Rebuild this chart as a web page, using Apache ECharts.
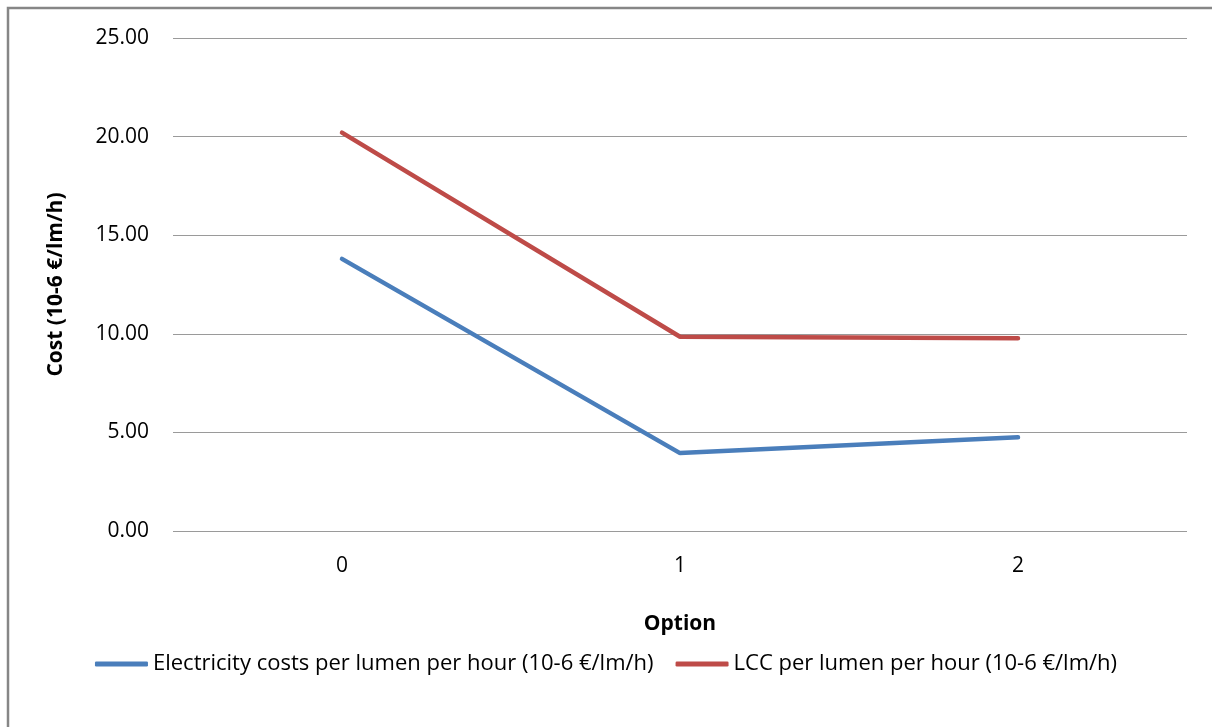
<!DOCTYPE html>
<html>
<head>
<meta charset="utf-8">
<script src="https://cdn.jsdelivr.net/npm/echarts@6/dist/echarts.min.js"></script>
<style>
  html, body { margin: 0; padding: 0; background: #fff; }
  #chart { width: 1212px; height: 727px; }
</style>
</head>
<body>
<div id="chart"></div>
<script>
const categories = ['0', '1', '2'];
const electricity = [13.8, 3.95, 4.75];
const lcc = [20.2, 9.85, 9.78];
const yTicks = [0, 5, 10, 15, 20, 25];

const FONT = '"Open Sans", "DejaVu Sans", sans-serif';

const chart = echarts.init(document.getElementById('chart'));

const option = {
    animation: false,
    backgroundColor: '#fff',
    textStyle: { fontFamily: FONT, color: '#000' },
    graphic: [
        {
            type: 'rect',
            shape: { x: 8, y: 8, width: 1220, height: 740 },
            style: { fill: 'none', stroke: '#868686', lineWidth: 2.5 },
            silent: true
        }
    ],
    grid: { left: 173, right: 25, top: 38, bottom: 196 },
    legend: {
        bottom: 47,
        left: 'center',
        itemWidth: 53,
        itemHeight: 5,
        itemGap: 22,
        icon: 'roundRect',
        textStyle: { fontFamily: FONT, fontSize: 22, color: '#000' },
        data: [
            'Electricity costs per lumen per hour (10-6 €/lm/h)',
            'LCC per lumen per hour (10-6 €/lm/h)'
        ]
    },
    xAxis: {
        type: 'category',
        data: categories,
        boundaryGap: true,
        name: 'Option',
        nameLocation: 'middle',
        nameGap: 83,
        nameTextStyle: { fontFamily: FONT, fontSize: 21, fontWeight: 'bold', color: '#000' },
        axisLine: { show: false },
        axisTick: { show: false },
        axisLabel: { fontFamily: FONT, fontSize: 21, color: '#000', margin: 25 }
    },
    yAxis: {
        type: 'value',
        min: 0,
        max: yTicks[yTicks.length - 1],
        interval: yTicks[1] - yTicks[0],
        name: 'Cost (10-6 €/lm/h)',
        nameLocation: 'middle',
        nameRotate: 90,
        nameGap: 106,
        nameTextStyle: { fontFamily: FONT, fontSize: 21, fontWeight: 'bold', color: '#000' },
        axisLine: { show: false },
        axisTick: { show: false },
        axisLabel: {
            fontFamily: FONT, fontSize: 21, color: '#000', margin: 24,
            formatter: v => v.toFixed(2)
        },
        splitLine: { lineStyle: { color: '#9a9a9a', width: 1 } }
    },
    series: [
        {
            name: 'Electricity costs per lumen per hour (10-6 €/lm/h)',
            type: 'line',
            data: electricity,
            symbol: 'none',
            lineStyle: { color: '#4a7ebb', width: 4.5, cap: 'round' },
            itemStyle: { color: '#4a7ebb' }
        },
        {
            name: 'LCC per lumen per hour (10-6 €/lm/h)',
            type: 'line',
            data: lcc,
            symbol: 'none',
            lineStyle: { color: '#be4b48', width: 4.5, cap: 'round' },
            itemStyle: { color: '#be4b48' }
        }
    ]
};

chart.setOption(option);
</script>
</body>
</html>
